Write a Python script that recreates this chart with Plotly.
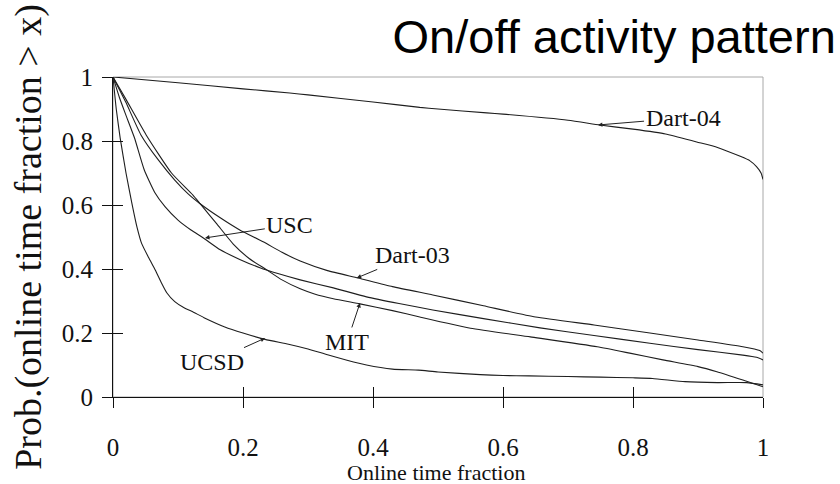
import plotly.graph_objects as go

# ---- data ----
dart04_x = [0, 0.1, 0.2, 0.272, 0.3, 0.4, 0.472, 0.5, 0.575, 0.6, 0.7, 0.749, 0.8, 0.85, 0.898, 0.93, 0.965, 0.98, 0.99, 0.997, 1.0]
dart04_y = [1, 0.982, 0.963, 0.95, 0.944, 0.922, 0.905, 0.9, 0.888, 0.884, 0.865, 0.85, 0.837, 0.822, 0.797, 0.78, 0.752, 0.738, 0.72, 0.70, 0.68]

dart03_x = [0, 0.01, 0.02, 0.043, 0.07, 0.095, 0.116, 0.134, 0.165, 0.195, 0.231, 0.26, 0.288, 0.33, 0.377, 0.43, 0.492, 0.57, 0.65, 0.74, 0.826, 0.9, 0.969, 0.995, 1.0]
dart03_y = [1, 0.96, 0.92, 0.819, 0.74, 0.678, 0.634, 0.604, 0.56, 0.522, 0.485, 0.452, 0.425, 0.395, 0.372, 0.345, 0.319, 0.285, 0.25, 0.225, 0.2, 0.178, 0.157, 0.145, 0.137]

usc_x = [0, 0.01, 0.02, 0.033, 0.048, 0.064, 0.08, 0.1, 0.12, 0.139, 0.165, 0.195, 0.226, 0.255, 0.288, 0.339, 0.39, 0.44, 0.492, 0.57, 0.657, 0.74, 0.826, 0.9, 0.969, 0.99, 1.0]
usc_y = [1, 0.935, 0.88, 0.81, 0.71, 0.64, 0.595, 0.553, 0.522, 0.497, 0.46, 0.43, 0.404, 0.385, 0.366, 0.341, 0.313, 0.292, 0.272, 0.245, 0.216, 0.192, 0.168, 0.148, 0.131, 0.124, 0.116]

mit_x = [0, 0.02, 0.051, 0.09, 0.123, 0.134, 0.16, 0.185, 0.21, 0.236, 0.26, 0.288, 0.31, 0.339, 0.38, 0.43, 0.472, 0.55, 0.642, 0.745, 0.795, 0.846, 0.9, 0.929, 0.969, 1.0]
mit_y = [1, 0.93, 0.819, 0.7, 0.631, 0.604, 0.54, 0.478, 0.432, 0.398, 0.366, 0.338, 0.322, 0.307, 0.291, 0.27, 0.25, 0.215, 0.188, 0.157, 0.137, 0.116, 0.095, 0.079, 0.053, 0.032]

ucsd_x = [0, 0.005, 0.011, 0.02, 0.029, 0.037, 0.044, 0.055, 0.065, 0.075, 0.083, 0.095, 0.11, 0.121, 0.14, 0.172, 0.2, 0.234, 0.27, 0.3, 0.33, 0.36, 0.39, 0.43, 0.47, 0.5, 0.565, 0.6, 0.64, 0.7, 0.75, 0.8, 0.83, 0.88, 0.93, 0.975, 1.0]
ucsd_y = [1, 0.9, 0.81, 0.7, 0.606, 0.53, 0.48, 0.435, 0.397, 0.355, 0.325, 0.298, 0.278, 0.268, 0.248, 0.219, 0.2, 0.18, 0.165, 0.15, 0.132, 0.115, 0.1, 0.087, 0.084, 0.078, 0.07, 0.067, 0.066, 0.064, 0.062, 0.06, 0.058, 0.048, 0.045, 0.045, 0.038]

series_names = ["Dart-04", "Dart-03", "USC", "MIT", "UCSD"]
series_x = [dart04_x, dart03_x, usc_x, mit_x, ucsd_x]
series_y = [dart04_y, dart03_y, usc_y, mit_y, ucsd_y]

# label text position and arrow tip (data coordinates)
label_text = ["Dart-04", "Dart-03", "USC", "MIT", "UCSD"]
label_pos_x = [0.877, 0.46, 0.272, 0.36, 0.152]
label_pos_y = [0.872, 0.444, 0.5375, 0.172, 0.109]
arrow_tip_x = [0.746, 0.375, 0.1415, 0.38, 0.234]
arrow_tip_y = [0.85, 0.372, 0.497, 0.294, 0.184]

tick_vals = [0, 0.2, 0.4, 0.6, 0.8, 1]
tick_text = ["0", "0.2", "0.4", "0.6", "0.8", "1"]

title_text = "On/off activity pattern"
x_title = "Online time fraction"
y_title = "Prob.(online time fraction > x)"

SERIF = "Liberation Serif"
SANS = "Liberation Sans"

fig = go.Figure()
for name, xs, ys in zip(series_names, series_x, series_y):
    fig.add_trace(go.Scatter(x=xs, y=ys, mode="lines", name=name,
                             line=dict(color="#1e1e1e", width=1.1, shape="spline", smoothing=0.5),
                             showlegend=False, hoverinfo="skip"))
# empty trace so the overlay axes (used for the inner half of the ticks) are drawn
fig.add_trace(go.Scatter(x=[], y=[], xaxis="x2", yaxis="y2", showlegend=False, hoverinfo="skip"))

for t, lx, ly, tx, ty in zip(label_text, label_pos_x, label_pos_y, arrow_tip_x, arrow_tip_y):
    fig.add_annotation(x=tx, y=ty, ax=lx, ay=ly, axref="x", ayref="y",
                       xref="x", yref="y", text=t, showarrow=True,
                       arrowhead=2, arrowsize=0.9, arrowwidth=1, arrowcolor="#222",
                       font=dict(family=SERIF, size=24, color="#111"))

# axis titles as annotations
fig.add_annotation(text=x_title, xref="paper", yref="paper", x=0.497, y=-0.236,
                   xanchor="center", yanchor="middle", showarrow=False,
                   font=dict(family=SERIF, size=22, color="#111"))
fig.add_annotation(text=y_title, xref="paper", yref="paper", x=-0.131, y=0.5,
                   xanchor="center", yanchor="middle", showarrow=False, textangle=-90,
                   font=dict(family=SERIF, size=38, color="#111"))

# gray frame (top/right)
fig.add_shape(type="rect", xref="paper", yref="paper", x0=0, y0=0, x1=1, y1=1,
              line=dict(color="#a8a8a8", width=1), layer="below")

common_axis = dict(showgrid=False, zeroline=False, showline=True, linecolor="#111",
                   linewidth=1, tickcolor="#111", tickwidth=1, ticklen=10,
                   tickvals=tick_vals)

fig.update_layout(
    width=840, height=484,
    margin=dict(l=113, r=77, t=77, b=87),
    paper_bgcolor="white", plot_bgcolor="white",
    title=dict(text=title_text, font=dict(family=SANS, size=47, color="#000"),
               xref="container", yref="container", x=0.995, y=0.925,
               xanchor="right", yanchor="middle"),
    xaxis=dict(range=[0, 1], ticks="outside", ticktext=tick_text,
               tickfont=dict(family=SERIF, size=25, color="#111"),
               ticklabelstandoff=18, **common_axis),
    yaxis=dict(range=[0, 1], ticks="outside", ticktext=tick_text,
               tickfont=dict(family=SERIF, size=25, color="#111"),
               ticklabelstandoff=4, **common_axis),
    xaxis2=dict(range=[0, 1], overlaying="x", anchor="y", side="bottom",
                ticks="inside", showticklabels=False, **common_axis),
    yaxis2=dict(range=[0, 1], overlaying="y", anchor="x", side="left",
                ticks="inside", showticklabels=False, **common_axis),
)

fig.write_html("out.html")
